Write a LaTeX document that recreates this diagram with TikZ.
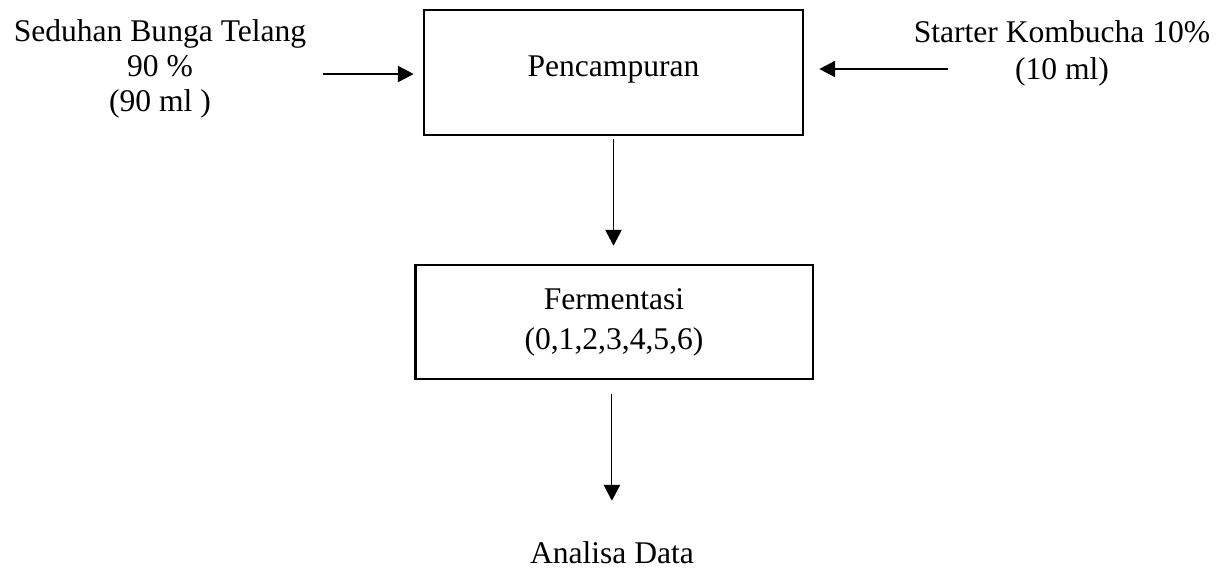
\documentclass[tikz,border=0pt]{standalone}
\usepackage{fontspec}
\setmainfont{Liberation Serif}
\usetikzlibrary{arrows.meta}

\begin{document}
\begin{tikzpicture}[x=0.38pt, y=-0.38pt,
    every node/.style={font=\fontsize{12}{14}\selectfont, align=center},
    procbox/.style={draw=black, line width=1.1pt, inner sep=0pt},
    flow/.style={line width=0.45pt, -{Triangle[length=6pt,width=6.2pt]}}]
  \useasboundingbox (0,0) rectangle (1225,573);

  \node[procbox, minimum width=144pt, minimum height=47.5pt, text depth=4.5pt] (mix) at (613.5,72.5) {Pencampuran};
  \node[procbox, minimum width=151.2pt, minimum height=43.3pt, font=\fontsize{12}{15.2}\selectfont] (ferm) at (614,322) {Fermentasi\\(0,1,2,3,4,5,6)};
  \node[font=\fontsize{12}{13.2}\selectfont] (brew) at (160,69) {Seduhan Bunga Telang\\90 \%\\(90 ml )};
  \node (starter) at (1062,53) {Starter Kombucha 10\%\\(10 ml)};
  \node[anchor=base] (hasil) at (612,563) {Analisa Data};

  \coordinate (inL) at (323,74);
  \coordinate (inR) at (948,69);

  \draw[flow, shorten >=3.4pt] (inL) -- (inL -| mix.west);
  \draw[flow, shorten >=5.7pt] (inR) -- (inR -| mix.east);
  \draw[flow, shorten <=1.1pt, shorten >=6.8pt] (mix.south) -- (mix.south |- ferm.north);
  \draw[flow, shorten <=5.3pt, shorten >=11.8pt] ([xshift=-0.8pt]ferm.south) -- ([xshift=-0.8pt]ferm.south |- hasil.north);
\end{tikzpicture}
\end{document}
